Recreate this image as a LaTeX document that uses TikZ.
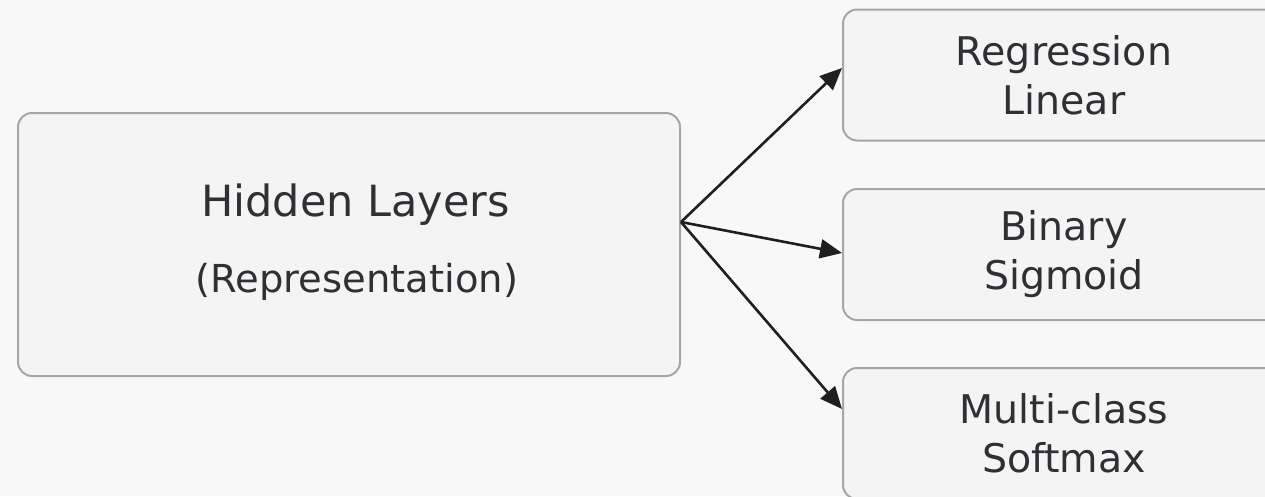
\documentclass[tikz,border=0pt]{standalone}
\usepackage{fontspec}
\setmainfont{DejaVu Sans}
\usetikzlibrary{arrows.meta,calc}
\definecolor{bgcol}{HTML}{F8F8F8}
\definecolor{boxfill}{HTML}{F4F4F5}
\definecolor{boxline}{HTML}{A6A6A6}
\definecolor{ink}{HTML}{2E3033}
\definecolor{arrowcol}{HTML}{1E1F21}
\begin{document}
\begin{tikzpicture}[x=1pt,y=-1pt,
  panel/.style={draw=boxline, line width=2pt, fill=boxfill, rounded corners=14pt,
    inner sep=0pt, text=ink, align=center},
  headbox/.style={panel, minimum width=662pt, minimum height=263pt},
  outbox/.style={panel, minimum width=442pt, minimum height=131pt,
    font=\fontsize{39.5}{49}\selectfont},
  caption/.style={anchor=base, inner sep=0pt, text=ink},
  flow/.style={draw=arrowcol, line width=2.6pt,
    -{Triangle[length=22pt,width=19pt]}}]
  \fill[bgcol] (0,0) rectangle (1265,496);
  \useasboundingbox (0,0) rectangle (1265,496);
  \begin{scope}
  \clip (0,0) rectangle (1265,496);
  \node[headbox] (hid) at (349,244.5) {};
  \node[outbox] (reg) at (1064,75)  {Regression\\Linear};
  \node[outbox] (bin) at (1064,254.5) {Binary\\Sigmoid};
  \node[outbox] (mul) at (1064,433.5) {Multi-class\\Softmax};
  \end{scope}
  \node[caption, font=\fontsize{43}{49}\selectfont] (hidtitle) at (355.5,216) {Hidden Layers};
  \node[caption, font=\fontsize{38.5}{49}\selectfont] (hidsub) at (357,292) {(Representation)};
  \coordinate (fork) at ([yshift=22.5pt]hid.east);
  \draw[flow] (fork) -- ([yshift=7pt]reg.west);
  \draw[flow] (fork) -- ([yshift=1.5pt]bin.west);
  \draw[flow] (fork) -- ([yshift=24.5pt]mul.west);
\end{tikzpicture}
\end{document}
